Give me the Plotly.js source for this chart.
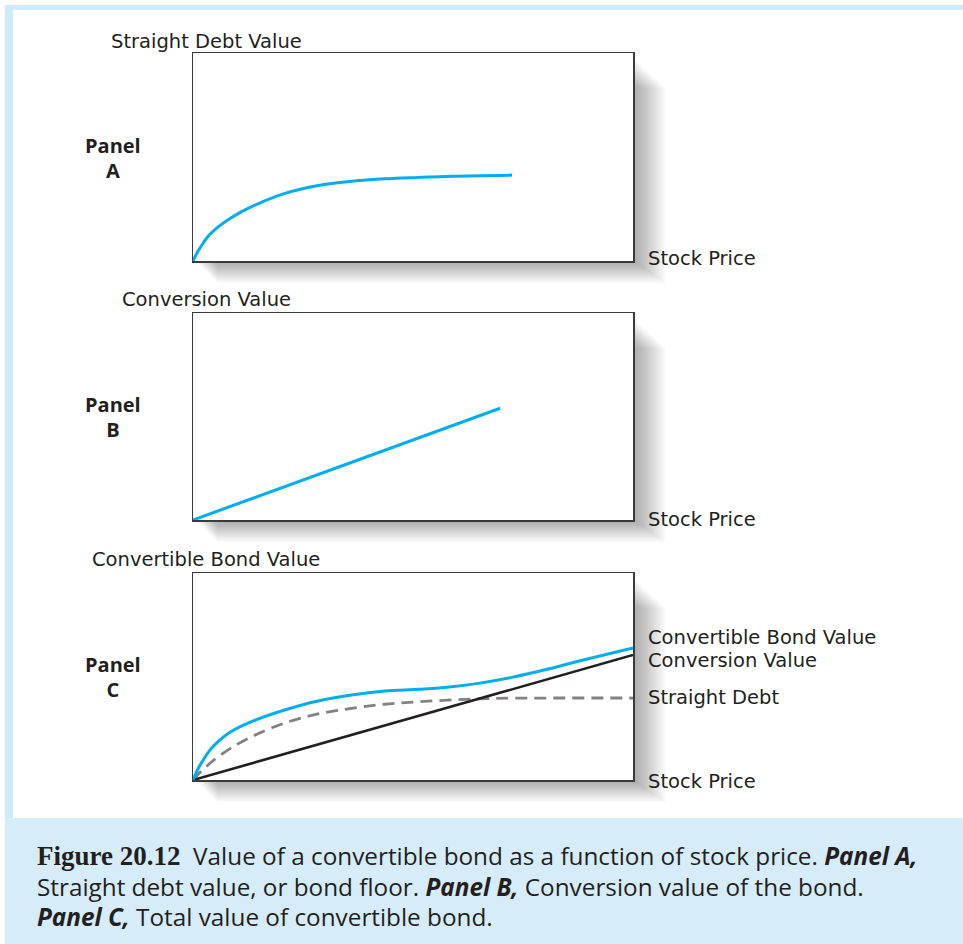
<!DOCTYPE html>
<html>
<head>
<meta charset="utf-8">
<script src="https://cdn.plot.ly/plotly-3.0.1.min.js"></script>
<style>html,body{margin:0;padding:0;background:#fff;}#chart{width:963px;height:944px;}</style>
</head>
<body>
<div id="chart"></div>
<script>
// ---------- DATA (stock price on x, value on y; 0-100 scale of each panel) ----------
const panelA_stock = [0, 1, 2.2, 3.8, 5.8, 8.5, 13.3, 20.9, 28.5, 36.1, 43.6, 51.1, 58.9, 72.5];
const panelA_straightDebt = [0, 4.2, 8.3, 12.7, 16.5, 20.6, 26.1, 32.5, 36.3, 38.3, 39.5, 40.2, 40.8, 41.3];

const panelB_stock = [0, 69.8];
const panelB_conversion = [0, 54];

const panelC_convStock = [0, 100];
const panelC_conversion = [0, 60.4];
const panelC_debtStock = [0, 1.2, 2.7, 4.2, 5.8, 8.5, 13.3, 20.8, 28.4, 36, 43.6, 51.2, 60, 68, 80, 100];
const panelC_straightDebt = [0, 2.8, 5.8, 8.7, 11.3, 15.3, 20.9, 27.5, 31.9, 34.6, 36.6, 37.8, 38.8, 39.4, 39.6, 39.6];
const panelC_bondStock = [0, 1, 2.2, 3.8, 5.8, 8.5, 13.3, 20.8, 28.4, 36, 43.6, 51.2, 57.7, 65.2, 72.7, 80.5, 88, 100];
const panelC_bondValue = [0, 4.8, 9.3, 14.3, 18.8, 23.2, 28.2, 33.8, 38.2, 41.1, 43, 43.8, 44.8, 46.8, 49.7, 53.5, 57.6, 63.8];

const panelTitles = ["Straight Debt Value", "Conversion Value", "Convertible Bond Value"];
const panelNames = ["Panel<br>A", "Panel<br>B", "Panel<br>C"];
const xLabel = "Stock Price";
const panelCLineLabels = ["Convertible Bond Value", "Conversion Value", "Straight Debt"];

// ---------- LAYOUT HELPERS ----------
const W = 963, H = 944;
const px = x => x / W;
const py = y => 1 - y / H;

const BLUE = "#00aeef", TXT = "#231f20", FRAME = "#cdebfa", CAP = "#d6ecf8";
const boxes = [
  {x0: 193, x1: 633, y0: 53, y1: 261},
  {x0: 193, x1: 633, y0: 313, y1: 520},
  {x0: 193, x1: 633, y0: 573, y1: 780}
];

const axisCommon = {
  range: [0, 100], showgrid: false, zeroline: false, showticklabels: false, ticks: "",
  showline: true, mirror: true, linecolor: "#3a3a3a", linewidth: 1.5, fixedrange: true
};

const layout = {
  width: W, height: H, margin: {l: 0, r: 0, t: 0, b: 0},
  paper_bgcolor: "#ffffff", plot_bgcolor: "rgba(0,0,0,0)", showlegend: false,
  shapes: [], annotations: []
};

boxes.forEach((b, i) => {
  const s = i === 0 ? "" : String(i + 1);
  layout["xaxis" + s] = Object.assign({}, axisCommon, {domain: [px(b.x0), px(b.x1)], anchor: "y" + s});
  layout["yaxis" + s] = Object.assign({}, axisCommon, {domain: [py(b.y1), py(b.y0)], anchor: "x" + s});
});

// frame
layout.shapes.push({type: "rect", xref: "paper", yref: "paper", x0: px(5), x1: 1, y0: py(10), y1: py(5), fillcolor: FRAME, line: {width: 0}, layer: "below"});
layout.shapes.push({type: "rect", xref: "paper", yref: "paper", x0: px(5), x1: px(13), y0: 0, y1: py(5), fillcolor: FRAME, line: {width: 0}, layer: "below"});
layout.shapes.push({type: "rect", xref: "paper", yref: "paper", x0: px(5), x1: 1, y0: 0, y1: py(818), fillcolor: CAP, line: {width: 0}, layer: "below"});

// soft drop shadows + white plot areas
boxes.forEach(b => {
  for (let k = 1; k <= 22; k++) {
    layout.shapes.push({type: "rect", xref: "paper", yref: "paper",
      x0: px(b.x0 + 2 + k), x1: px(b.x1 + 1.5 * k), y0: py(b.y1 + 1.0 * k), y1: py(b.y0 + 4 + 1.4 * k),
      fillcolor: "rgba(0,0,0,0.016)", line: {width: 0}, layer: "below"});
  }
  layout.shapes.push({type: "rect", xref: "paper", yref: "paper",
    x0: px(b.x0), x1: px(b.x1), y0: py(b.y1), y1: py(b.y0),
    fillcolor: "#ffffff", line: {width: 0}, layer: "below"});
});

const LBL_FAMILY = "DejaVu Sans, sans-serif";
const lblFont = {family: LBL_FAMILY, size: 19.5, color: TXT};
const boldFont = {family: "Open Sans, sans-serif", size: 19, color: TXT, weight: "bold"};

// panel titles, names, stock price labels
const titleY = [41, 299, 559];
const nameY = [158, 417, 677];
const stockY = [258, 519, 781];
for (let i = 0; i < 3; i++) {
  layout.annotations.push({xref: "paper", yref: "paper", x: px(206), y: py(titleY[i]), xanchor: "center", yanchor: "middle",
    text: panelTitles[i], showarrow: false, font: lblFont});
  layout.annotations.push({xref: "paper", yref: "paper", x: px(113), y: py(nameY[i]), xanchor: "center", yanchor: "middle",
    text: '<span style="font-size:20px"><b>' + panelNames[i].replace("<br>", '</b></span><br><span style="font-size:20px"><b>') + "</b></span>",
    showarrow: false, font: boldFont, align: "center"});
  layout.annotations.push({xref: "paper", yref: "paper", x: px(646), y: py(stockY[i]), xanchor: "left", yanchor: "middle",
    text: xLabel, showarrow: false, font: lblFont});
}
const cLabY = [637, 660, 697];
panelCLineLabels.forEach((t, i) => {
  layout.annotations.push({xref: "paper", yref: "paper", x: px(646), y: py(cLabY[i]), xanchor: "left", yanchor: "middle",
    text: t, showarrow: false, font: lblFont});
});

// caption: one block, line pitch = 1.3 x 23.5px
const sp24 = t => '<span style="font-size:24.3px">' + t + '</span>';
const serif = '<span style="font-family:Liberation Serif, serif;font-size:27px"><b>Figure 20.12</b></span>';
const capLines = [
  serif + sp24("&nbsp; Value of a convertible bond as a function of stock price. <b><i>Panel A,</i></b>"),
  sp24("Straight debt value, or bond floor. <b><i>Panel B,</i></b> Conversion value of the bond."),
  sp24("<b><i>Panel C,</i></b> Total value of convertible bond.")
];
layout.annotations.push({xref: "paper", yref: "paper", x: px(35), y: py(886), xanchor: "left", yanchor: "middle",
  text: capLines.join("<br>"), showarrow: false,
  font: {family: "Open Sans, sans-serif", size: 23.5, color: TXT}, align: "left"});

const traces = [
  {x: panelA_stock, y: panelA_straightDebt, xaxis: "x", yaxis: "y", mode: "lines",
   line: {color: BLUE, width: 3, shape: "spline", smoothing: 1}},
  {x: panelB_stock, y: panelB_conversion, xaxis: "x2", yaxis: "y2", mode: "lines",
   line: {color: BLUE, width: 3}},
  {x: panelC_debtStock, y: panelC_straightDebt, xaxis: "x3", yaxis: "y3", mode: "lines",
   line: {color: "#808285", width: 2.8, dash: "12px,7px", shape: "spline", smoothing: 1}},
  {x: panelC_convStock, y: panelC_conversion, xaxis: "x3", yaxis: "y3", mode: "lines",
   line: {color: "#231f20", width: 2.6}},
  {x: panelC_bondStock, y: panelC_bondValue, xaxis: "x3", yaxis: "y3", mode: "lines",
   line: {color: BLUE, width: 3, shape: "spline", smoothing: 1}}
];
traces.forEach(t => { t.hoverinfo = "skip"; t.cliponaxis = true; });

Plotly.newPlot("chart", traces, layout, {displayModeBar: false, staticPlot: true});
</script>
</body>
</html>
